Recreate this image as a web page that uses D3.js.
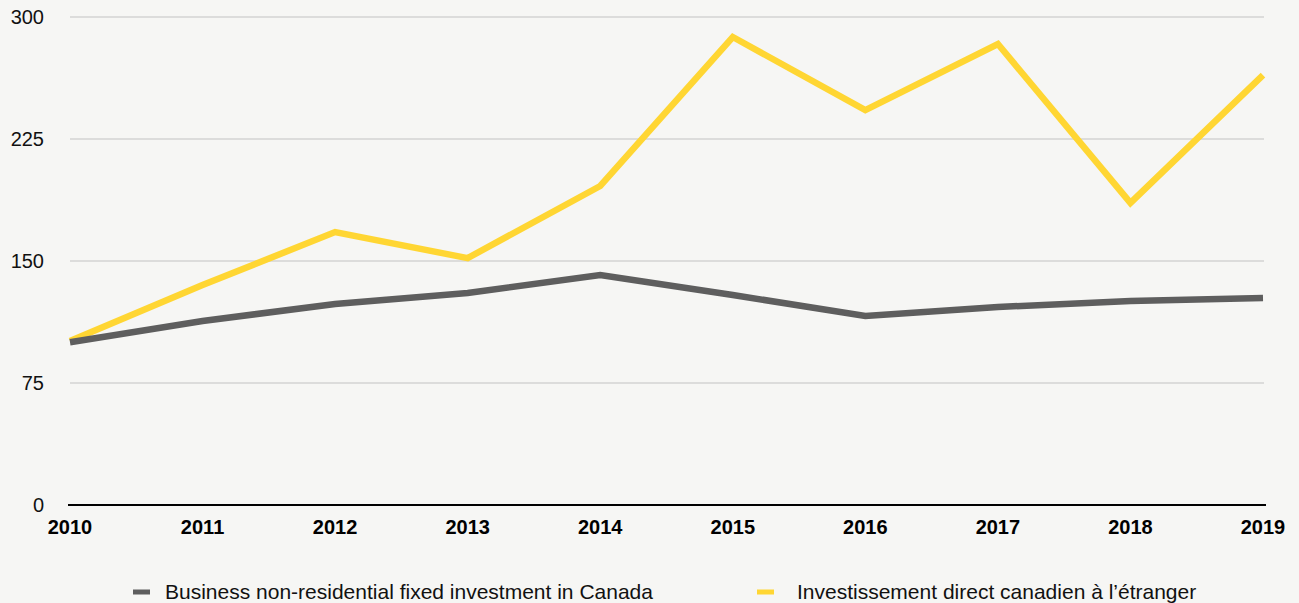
<!DOCTYPE html>
<html>
<head>
<meta charset="utf-8">
<script src="https://cdn.jsdelivr.net/npm/d3@7"></script>
<style>
  body { margin: 0; background: #f6f6f4; }
  svg { display: block; font-family: "Liberation Sans", Arial, sans-serif; }
</style>
</head>
<body>
<div id="chart"></div>
<script>
var years = [2010, 2011, 2012, 2013, 2014, 2015, 2016, 2017, 2018, 2019];
var business = [100, 113.1, 123.6, 130.3, 141.4, 129.1, 116.2, 121.7, 125.4, 127.3];
var direct = [100.8, 135.2, 167.8, 151.8, 196.1, 287.7, 242.8, 283.4, 185.7, 264.3];
var yTicks = [0, 75, 150, 225, 300];
var seriesNames = ["Business non-residential fixed investment in Canada", "Investissement direct canadien à l’étranger"];
var seriesColors = ["#5e5e5e", "#ffd633"];

var width = 1299, height = 603;

var svg = d3.select("#chart").append("svg")
    .attr("width", width)
    .attr("height", height);

var x = d3.scalePoint()
    .domain(years)
    .range([70, 1263]);

var y = d3.scaleLinear()
    .domain([0, 300])
    .range([505, 17]);

// gridlines
svg.selectAll(".grid")
    .data(yTicks.filter(function (d) { return d > 0; }))
    .enter()
    .append("line")
    .attr("x1", 70)
    .attr("x2", 1264)
    .attr("y1", function (d) { return y(d); })
    .attr("y2", function (d) { return y(d); })
    .attr("stroke", "#c2c2c2")
    .attr("stroke-width", 1);

// y labels
svg.selectAll(".ylab")
    .data(yTicks)
    .enter()
    .append("text")
    .attr("x", 44)
    .attr("y", function (d) { return y(d); })
    .attr("dy", "0.35em")
    .attr("text-anchor", "end")
    .style("font-size", "20px")
    .style("fill", "#111")
    .text(function (d) { return d; });

// x axis line
svg.append("line")
    .attr("x1", 68)
    .attr("x2", 1266)
    .attr("y1", y(0))
    .attr("y2", y(0))
    .attr("stroke", "#000")
    .attr("stroke-width", 2);

// x labels
svg.selectAll(".xlab")
    .data(years)
    .enter()
    .append("text")
    .attr("x", function (d) { return x(d); })
    .attr("y", 534)
    .attr("text-anchor", "middle")
    .style("font-size", "20px")
    .style("font-weight", "bold")
    .style("fill", "#000")
    .text(function (d) { return d; });

var line = d3.line()
    .x(function (d, i) { return x(years[i]); })
    .y(function (d) { return y(d); });

// yellow underneath, gray on top
svg.append("path")
    .datum(direct)
    .attr("d", line)
    .attr("fill", "none")
    .attr("stroke", seriesColors[1])
    .attr("stroke-width", 6.5)
    .attr("stroke-linejoin", "miter");

svg.append("path")
    .datum(business)
    .attr("d", line)
    .attr("fill", "none")
    .attr("stroke", seriesColors[0])
    .attr("stroke-width", 6.5)
    .attr("stroke-linejoin", "miter");

// legend
var legendX = [133, 757];
var legend = svg.selectAll(".legend")
    .data(seriesNames)
    .enter()
    .append("g")
    .attr("transform", function (d, i) { return "translate(" + legendX[i] + ",592)"; });

legend.append("line")
    .attr("x1", 0)
    .attr("x2", 17)
    .attr("stroke", function (d, i) { return seriesColors[i]; })
    .attr("stroke-width", 5);

legend.append("text")
    .attr("x", function (d, i) { return i === 0 ? 32 : 40; })
    .attr("dy", "0.35em")
    .style("font-size", "21px")
    .style("fill", "#111")
    .text(function (d) { return d; });
</script>
</body>
</html>
